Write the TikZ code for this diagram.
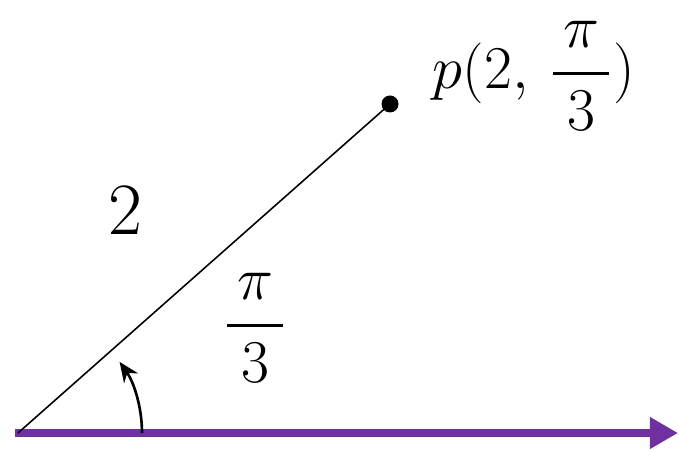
\documentclass[tikz,border=0pt]{standalone}
\usepackage{amsmath}
\usetikzlibrary{arrows.meta}
\definecolor{axispurple}{RGB}{112,48,160}

\begin{document}
\begin{tikzpicture}[x=0.01cm,y=0.01cm,>=Stealth,
  ray/.style={line width=0.45pt,black},
  axis/.style={line width=2.3pt,axispurple,-{Triangle[length=0.28cm,width=0.3cm]}},
  turn/.style={line width=0.75pt,black,-{Stealth[length=0.2cm,width=0.17cm]}},
  pt/.style={circle,fill=black,inner sep=0pt,minimum size=0.17cm},
  lbl/.style={inner sep=0pt,font=\fontsize{18}{21}\selectfont},
  big/.style={inner sep=0pt,font=\fontsize{21}{24}\selectfont},
]
\useasboundingbox (0,0) rectangle (679,452);

%% points
\coordinate (O) at (18,19);
\coordinate (E) at (678,19);
\node[pt] (P) at (390,348) {};

%% polar axis and ray
\draw[axis] (15,19) -- (E);
\draw[ray] (O) -- (P.center);

%% angle mark
\draw[turn] (O) ++(124,0) arc[start angle=0,end angle=35,radius=124];

%% labels
\node[big] (r) at (125.5,242) {2};
\node[lbl] (ang) at (255,124) {$\dfrac{\,\pi\,}{3}$};
\node[lbl] (Plbl) at (534,376) {$p(2,\,\dfrac{\,\pi\,}{3})$};

\end{tikzpicture}
\end{document}
